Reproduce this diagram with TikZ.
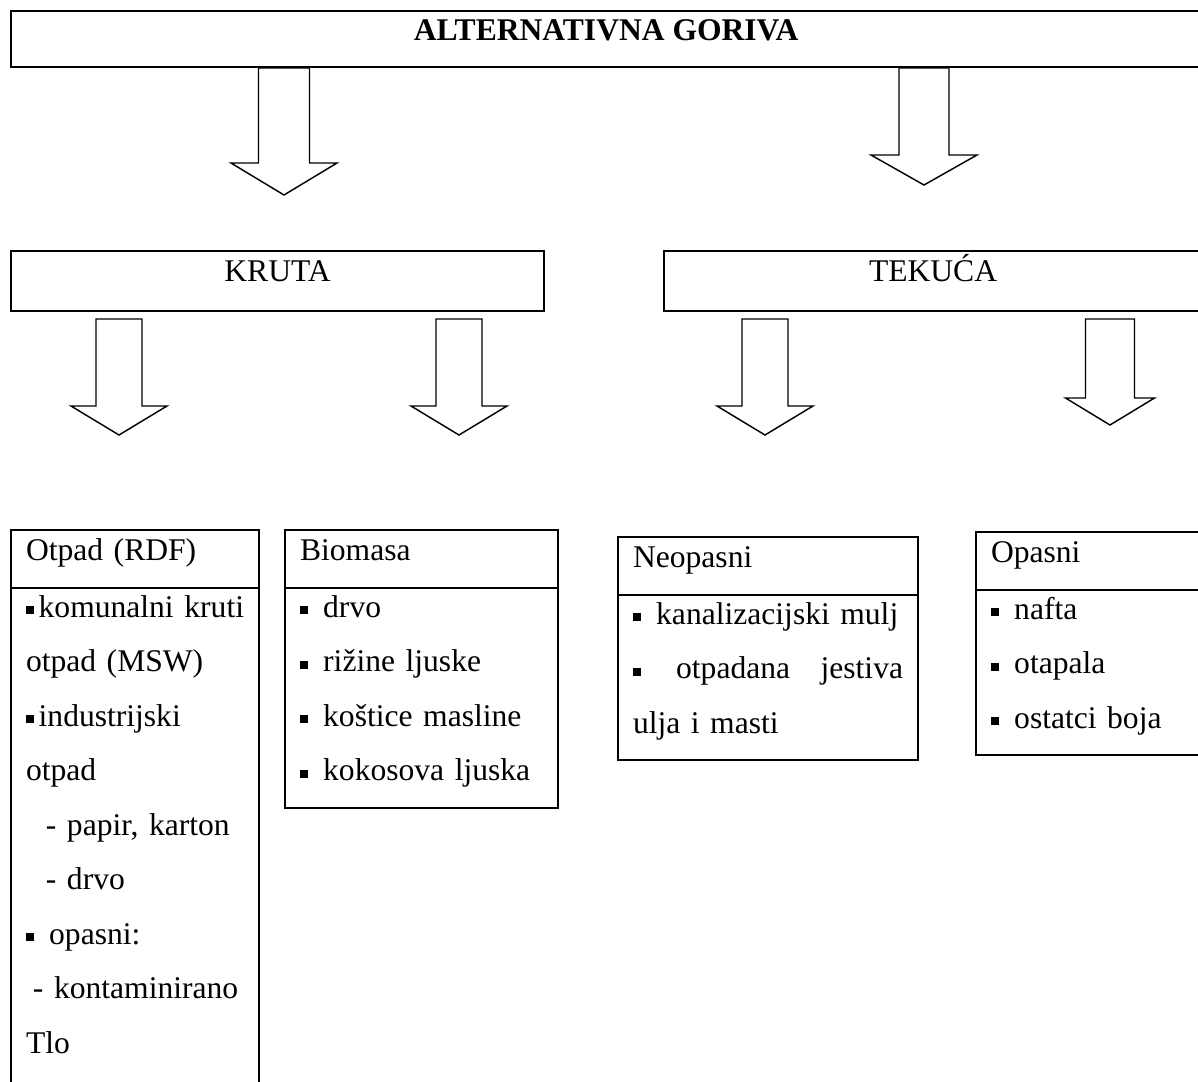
\documentclass[tikz,border=0pt]{standalone}
\usepackage{fontspec}
\setmainfont{Liberation Serif}
\usepackage{tikz}
\usetikzlibrary{shapes.multipart}

\newlength\pxu
\setlength\pxu{0.38pt}
% line struts and square bullet
\newcommand\hs{\rule[-27\pxu]{0pt}{56\pxu}}
\newcommand\ls{\rule[-26\pxu]{0pt}{54\pxu}}
\newcommand\sqb{\makebox[0.4em][l]{\rule[0.1em]{0.24em}{0.24em}}}
% hollow block arrow: centre x, top, head base, tip, half shaft, half head
\newcommand\fatarrow[6]{%
  \draw[blockarrow] (#1-#5,#2) -- (#1+#5,#2) -- (#1+#5,#3) -- (#1+#6,#3)
    -- (#1,#4) -- (#1-#6,#3) -- (#1-#5,#3) -- cycle;}

\tikzset{
  txt/.style={font=\fontsize{12}{20.71}\selectfont},
  catbox/.style={txt, draw, line width=0.8pt, anchor=north west,
    inner sep=0pt, text height=30\pxu, text depth=30\pxu},
  listbox/.style={txt, draw, line width=0.8pt, anchor=north west,
    rectangle split, rectangle split parts=2,
    inner xsep=15\pxu, inner ysep=0pt, align=left},
  blockarrow/.style={line width=0.55pt, line join=miter}
}

\begin{document}
\begin{tikzpicture}[x=0.38pt, y=-0.38pt]
\useasboundingbox (0,0) rectangle (1198,1082);

\node[catbox, font=\fontsize{12}{20.71}\selectfont\bfseries,
   minimum width=1190\pxu, text height=29\pxu, text depth=27\pxu] (goriva) at (10,10)
  {ALTERNATIVNA GORIVA};

\fatarrow{284}{68}{163}{195}{25.5}{53}
\fatarrow{924}{68}{155}{185}{25}{53}

\node[catbox, minimum width=533\pxu] (kruta) at (10,250) {KRUTA};
\node[catbox, minimum width=538\pxu] (tekuca) at (663,250) {TEKUĆA};

\fatarrow{119}{319}{406}{435}{23}{48}
\fatarrow{459}{319}{406}{435}{23}{48}
\fatarrow{765}{319}{406}{435}{23}{48}
\fatarrow{1110}{319}{398}{425}{24.5}{44.5}

\node[listbox, text width=218\pxu] (otpad) at (10,529)
  {\hs Otpad (RDF)
   \nodepart{second}
   \ls\hbox to 218\pxu{\sqb komunalni\hfill kruti}\\
   \ls otpad (MSW)\\
   \ls\sqb industrijski\\
   \ls otpad\\
   \ls\hspace*{0.63em}- papir, karton\\
   \ls\hspace*{0.63em}- drvo\\
   \ls\sqb\ opasni:\\
   \ls\hspace*{0.22em}- kontaminirano\\
   \ls Tlo\\
   \ls
  };
\node[listbox, text width=243\pxu] (biomasa) at (284,529)
  {\hs Biomasa
   \nodepart{second}
   \ls\sqb\ drvo\\
   \ls\sqb\ rižine ljuske\\
   \ls\sqb\ koštice masline\\
   \ls\sqb\ kokosova ljuska
  };
\node[listbox, text width=270\pxu] (neopasni) at (617,536)
  {\hs Neopasni
   \nodepart{second}
   \ls\sqb\ kanalizacijski mulj\\
   \ls\hbox to 270\pxu{\sqb\hfill otpadana\hfill jestiva}\\
   \ls ulja i masti
  };
\node[listbox, text width=200\pxu] (opasni) at (975,531)
  {\hs Opasni
   \nodepart{second}
   \ls\sqb\ nafta\\
   \ls\sqb\ otapala\\
   \ls\sqb\ ostatci boja
  };
\end{tikzpicture}
\end{document}
